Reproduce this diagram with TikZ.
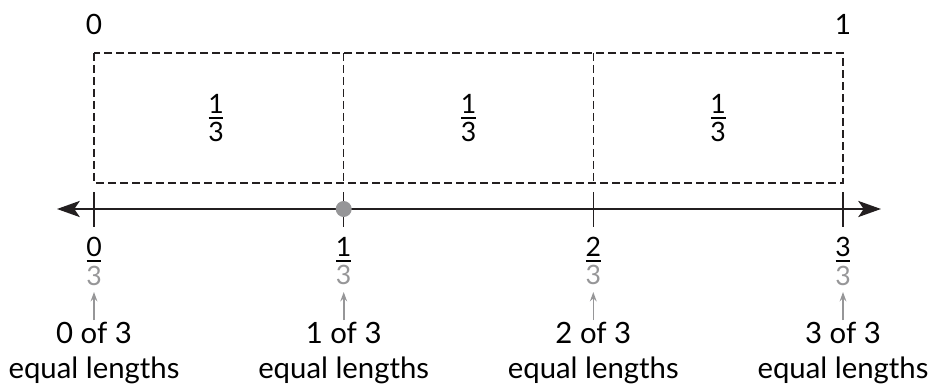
\documentclass[tikz,border=0pt]{standalone}
\usepackage{fontspec}
\setmainfont{Lato}
\usetikzlibrary{arrows.meta}
\definecolor{markgray}{RGB}{150,150,152}
\definecolor{linegray}{RGB}{35,31,32}
% stacked fraction: black numerator, coloured denominator
\newcommand{\thirds}[2]{\vbox{\hbox to 0.55em{\hss#1\hss}\kern3pt\hrule height 1.1pt\kern3pt\hbox to 0.55em{\hss\color{#2}3\hss}}}

\begin{document}
\begin{tikzpicture}[x=0.75pt,y=-0.75pt,line width=0.8pt,font=\fontsize{20}{26}\selectfont,
  part/.style={draw=linegray,dashed,dash pattern=on 6pt off 3pt,line width=0.8pt},
  caption/.style={align=center,anchor=north,inner sep=0pt,font=\fontsize{22}{26}\selectfont}]
  \useasboundingbox (0,0) rectangle (931,392);

  % ends of the strip
  \node[font=\fontsize{21}{26}\selectfont] (zero) at (94,24) {0};
  \node[font=\fontsize{21}{26}\selectfont] (one) at (843,24) {1};

  % strip cut into thirds
  \draw[part] (94,53) rectangle (843,183);
  \draw[part] (343.7,53) -- (343.7,183);
  \draw[part] (593.3,53) -- (593.3,183);
  \foreach \i/\x in {1/216,2/468.5,3/718.2}
    \node[inner sep=0pt] (p\i) at (\x,118) {\thirds{1}{black}};

  % number line
  \coordinate (L) at (57,209);
  \coordinate (R) at (881,209);
  \draw[linegray,line width=2pt,{Stealth[length=17pt,width=12pt,inset=4pt]}-{Stealth[length=17pt,width=12pt,inset=4pt]}] (L) -- (R);

  \foreach \i/\x in {0/94,1/343.7,2/593.3,3/843}{
    \draw[linegray,line width=0.9pt] (\x,192) -- (\x,227);
    \node[inner sep=0pt] (f\i) at (\x,261) {\thirds{\i}{markgray}};
    \node[caption] (c\i) at (\x,322) {\i{} of 3\\equal lengths};
    \draw[markgray,line width=1.2pt,-{Stealth[length=7pt,width=5pt]}] (c\i.north) ++(0,-2) -- (\x,292);
  }

  % point at one third
  \fill[markgray] (343.7,209) circle (6pt);
\end{tikzpicture}
\end{document}
